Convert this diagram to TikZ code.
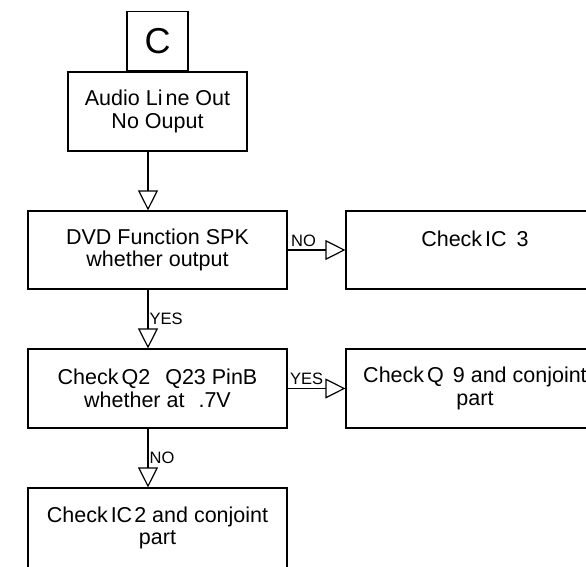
\documentclass[tikz,border=0pt]{standalone}
\usepackage{fontspec}
\setmainfont{Liberation Sans}
\usetikzlibrary{arrows.meta}

\begin{document}
\begin{tikzpicture}[x=1pt,y=1pt,line width=1.2pt,
                    >={Triangle[open,length=20pt,width=20pt]},
                    box/.style={draw,align=center,inner sep=0pt,font=\fontsize{21.5}{22.5}\selectfont},
                    left box/.style={box,minimum width=259pt},
                    right box/.style={box,minimum width=258pt},
                    answer/.style={font=\fontsize{16.5}{18}\selectfont,inner sep=1pt}]

  \useasboundingbox (0,0) rectangle (586,-567);

  \node[box,minimum width=179pt,minimum height=79pt] (audio) at (157.5,-111.5) {Audio Li\hspace{3pt}ne Out\\No Ouput};
  \node[box,minimum width=61pt,minimum height=59pt,anchor=south,
        font=\fontsize{36}{37}\selectfont] (c) at (audio.north) {C};
  \node[left box,minimum height=78pt] (dvd) at (157.5,-250) {DVD Function SPK\\whether output};
  \node[right box,minimum height=78pt] (ic3) at (475,-250) {Check\hspace{3pt}IC\hspace{10pt}3\\\mbox{}};
  \node[left box,minimum height=79pt] (q2) at (157.5,-388.5) {Check\hspace{3pt}Q2\hspace{15pt}Q23 PinB\\whether at\hspace{14pt}.7V};
  \node[right box,minimum height=79pt] (q9) at (475,-388.5) {Check\hspace{3pt}Q\hspace{9pt}9 and conjoint\\part};
  \node[left box,minimum height=80pt] (ic2) at (157.5,-528) {Check\hspace{3pt}IC\hspace{2pt}2 and conjoint\\part};

  \coordinate (spine) at (148,0);

\path[->,every node/.style={answer}]
    (audio.south -| spine) edge (dvd.north -| spine)
    (dvd.south -| spine) edge node[right] {YES} (q2.north -| spine)
    (q2.south -| spine) edge node[right] {NO} (ic2.north -| spine)
    (dvd) edge node[pos=0,anchor=south west,xshift=2pt,yshift=2pt] {NO} (ic3)
    (q2) edge node[pos=0,anchor=south west,xshift=1pt,yshift=2pt] {YES} (q9)
;
\end{tikzpicture}
\end{document}
